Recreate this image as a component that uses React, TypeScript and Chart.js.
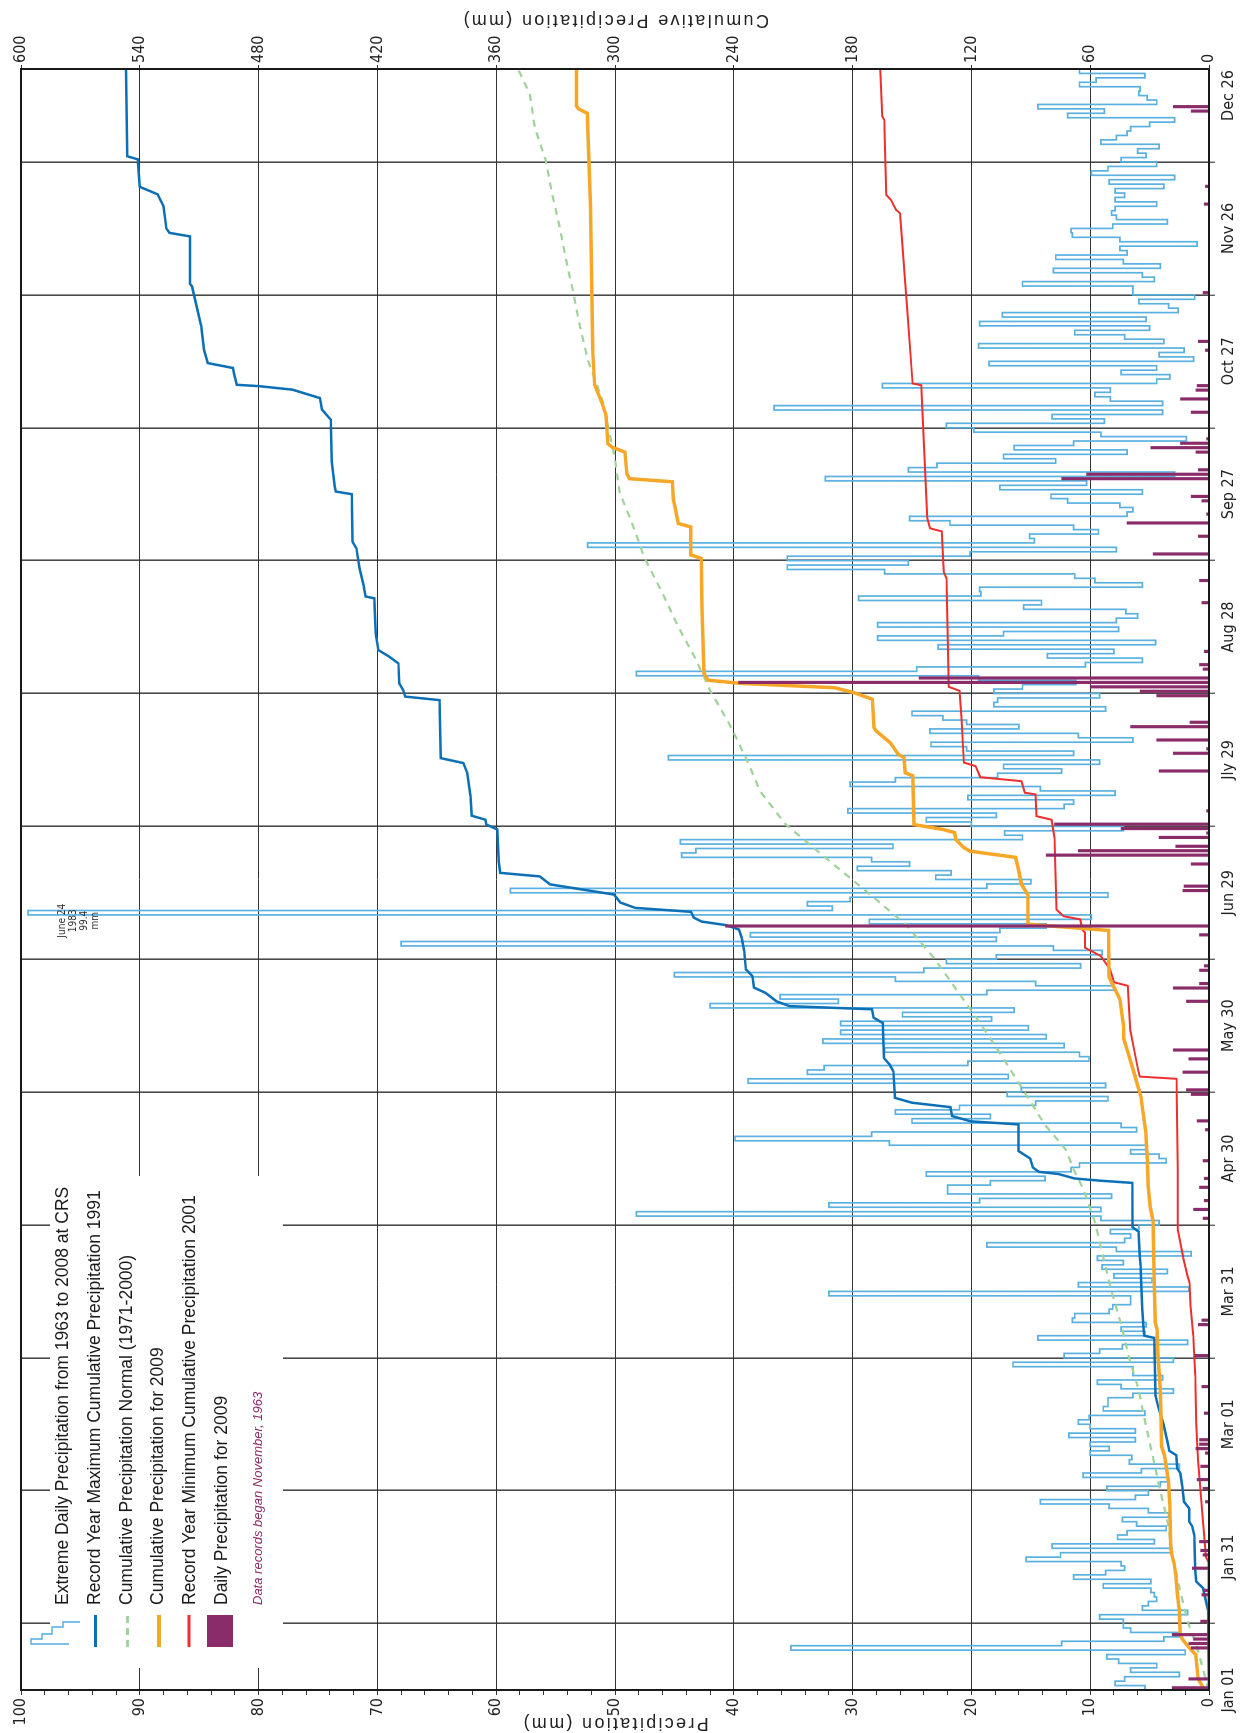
import React, { useEffect, useRef } from 'react';
import { Chart, registerables } from 'chart.js';

Chart.register(...registerables);

// ---------- axis ticks / labels ----------
const dateTickDays = [0, 30, 60, 90, 120, 150, 180, 210, 240, 270, 300, 330, 360];
const dateTickLabels = ['Jan 01', 'Jan 31', 'Mar 01', 'Mar 31', 'Apr 30', 'May 30', 'Jun 29', 'Jly 29', 'Aug 28', 'Sep 27', 'Oct 27', 'Nov 26', 'Dec 26'];
const dayMax = 366;
const precipMax = 100;
const precipMinorStep = 2;
const precipMajorStep = 10;
const cumulativeMax = 600;
const cumulativeStep = 60;

const leftTitle = 'Precipitation (mm)';
const rightTitle = 'Cumulative Precipitation (mm)';
const legendLabels = [
  'Extreme Daily Precipitation from 1963 to 2008 at CRS',
  'Record Year Maximum Cumulative Precipitation 1991',
  'Cumulative Precipitation Normal (1971-2000)',
  'Cumulative Precipitation for 2009',
  'Record Year Minimum Cumulative Precipitation 2001',
  'Daily Precipitation for 2009',
];
const recordsNote = 'Data records began November, 1963';
const extremeNote = ['June 24', '1983', '99.4', 'mm'];

// ---------- series ----------
// Extreme daily precipitation 1963-2008 (mm), one value per day, Jan 01 .. Dec 31
const extremeDaily = [
  5.4, 7.9, 7.1, 2.5, 6.6, 4.4, 7.6, 8.6, 2.0, 35.2,
  12.4, 3.8, 2.5, 6.6, 7.2, 7.2, 9.2, 1.8, 5.6, 5.1,
  4.4, 4.6, 4.9, 8.9, 4.9, 11.4, 8.7, 7.1, 7.4, 15.4,
  12.5, 3.1, 13.2, 4.6, 7.7, 6.9, 3.6, 6.1, 7.3, 3.4,
  5.1, 8.4, 14.2, 6.2, 5.1, 8.6, 4.1, 3.4, 10.6, 5.7,
  2.5, 6.7, 6.5, 10.0, 8.4, 10.0, 6.2, 11.8, 6.2, 10.0,
  11.0, 10.1, 5.4, 8.9, 8.5, 8.5, 6.4, 3.0, 7.4, 9.4,
  3.9, 6.4, 6.4, 16.5, 3.0, 12.2, 9.2, 7.3, 1.8, 14.4,
  5.4, 7.4, 5.3, 11.5, 11.3, 8.4, 8.1, 6.6, 6.6, 32.0,
  1.7, 11.0, 4.8, 8.0, 3.5, 9.0, 7.2, 9.4, 1.5, 7.8,
  18.7, 7.1, 6.6, 8.3, 5.9, 4.2, 9.1, 48.2, 9.1, 32.0,
  19.3, 8.2, 22.0, 22.0, 18.4, 13.8, 23.8, 11.6, 10.9, 3.6,
  4.2, 6.6, 5.3, 26.9, 39.9, 28.4, 6.1, 7.4, 25.0, 18.4,
  26.4, 21.0, 14.6, 8.5, 17.0, 15.8, 8.7, 38.8, 16.9, 33.8,
  32.4, 20.3, 10.1, 10.9, 27.3, 12.2, 32.5, 13.7, 31.0, 15.2,
  31.0, 18.3, 25.8, 16.4, 42.0, 31.2, 36.1, 18.7, 8.0, 14.6,
  26.4, 45.0, 24.0, 10.8, 22.1, 17.9, 9.0, 13.1, 68.0, 17.9,
  38.6, 17.6, 13.7, 28.6, 9.9, 99.4, 31.7, 33.8, 30.2, 8.5,
  58.8, 18.7, 15.0, 23.0, 21.7, 29.6, 25.2, 28.4, 44.4, 43.2,
  26.6, 44.5, 15.7, 17.2, 7.2, 20.0, 23.8, 17.9, 30.4, 12.2,
  11.4, 20.3, 7.9, 14.2, 30.2, 26.4, 17.8, 12.4, 17.3, 9.2,
  45.5, 11.4, 20.4, 23.4, 6.4, 11.0, 23.5, 16.0, 20.4, 22.4,
  25.0, 8.7, 18.1, 17.8, 9.2, 18.1, 15.7, 11.2, 19.4, 48.2,
  24.6, 10.4, 5.6, 13.6, 8.0, 22.8, 4.5, 27.9, 17.3, 7.6,
  27.9, 7.8, 6.0, 7.0, 15.6, 14.1, 29.5, 19.2, 19.3, 5.6,
  9.6, 11.3, 27.3, 35.5, 25.3, 35.5, 20.1, 7.8, 52.3, 14.7,
  15.1, 9.3, 11.4, 21.8, 25.2, 6.9, 6.4, 7.5, 11.9, 13.3,
  5.6, 17.6, 10.3, 32.3, 2.9, 25.3, 22.9, 12.9, 17.3, 6.9,
  16.4, 11.4, 1.9, 9.1, 19.8, 22.1, 8.8, 13.2, 3.9, 36.6,
  3.9, 8.3, 9.6, 8.3, 27.5, 4.4, 3.3, 7.4, 4.4, 18.5,
  1.3, 4.2, 2.1, 19.4, 3.8, 7.1, 11.3, 5.0, 19.3, 5.3,
  17.4, 2.6, 3.4, 5.9, 1.2, 6.4, 6.4, 15.7, 4.6, 5.6,
  13.1, 4.1, 7.2, 12.9, 6.9, 7.5, 1.0, 7.5, 11.5, 11.6,
  8.1, 3.5, 7.8, 8.2, 7.9, 4.4, 7.9, 7.1, 7.9, 3.8,
  8.4, 2.9, 9.9, 8.5, 4.4, 7.4, 5.3, 6.0, 4.2, 9.1,
  7.8, 6.9, 6.6, 5.0, 2.9, 11.9, 8.8, 14.4, 4.4, 5.2,
  5.9, 5.8, 10.9, 9.5, 5.4, 10.9,
];

// Daily precipitation 2009 (day of year, mm)
const daily2009Days = [0, 2, 9, 10, 11, 12, 15, 21, 22, 27, 30, 31, 33, 42, 45, 47, 50, 53, 54, 55, 56, 62, 68, 75, 82, 83, 106, 108, 110, 113, 115, 119, 126, 128, 134, 135, 139, 142, 144, 155, 158, 159, 162, 163, 170, 172, 180, 181, 186, 188, 189, 190, 192, 193, 194, 195, 198, 207, 211, 212, 214, 217, 218, 224, 225, 226, 227, 228, 230, 231, 234, 245, 250, 256, 260, 263, 265, 268, 269, 273, 274, 275, 279, 280, 281, 282, 288, 291, 293, 294, 302, 304, 315, 335, 339, 356, 357];
const daily2009Values = [3.1, 1.7, 1.5, 1.7, 1.3, 3.1, 0.7, 0.6, 0.4, 1.4, 0.5, 0.7, 0.8, 0.3, 0.5, 1.0, 0.7, 0.3, 1.1, 0.8, 0.8, 0.4, 0.6, 1.2, 0.9, 0.6, 0.5, 1.3, 0.4, 0.8, 0.4, 0.5, 0.3, 1.0, 1.5, 1.9, 2.2, 1.7, 3.0, 1.9, 3.0, 0.8, 0.8, 0.4, 0.8, 40.7, 2.2, 2.1, 1.5, 13.7, 11.0, 2.8, 4.2, 0.2, 7.4, 13.0, 0.2, 4.2, 3.0, 0.2, 4.4, 6.6, 1.6, 4.4, 5.8, 10.0, 39.6, 24.4, 0.5, 0.8, 0.4, 0.6, 0.8, 4.7, 0.9, 6.9, 0.2, 0.6, 1.5, 12.4, 10.3, 0.9, 1.1, 4.9, 2.4, 0.2, 1.5, 2.4, 1.1, 1.0, 0.3, 0.9, 0.5, 0.4, 0.3, 1.5, 3.0];

// Cumulative series: [day of year, cumulative mm]
const max1991: [number, number][] = [
  [0, 0], [18, 0.5], [21, 2], [23, 3], [24.5, 6.5], [27, 7], [35, 7.5], [37, 8.5], [38, 10], [41, 10],
  [42.5, 12.6], [46, 13.5], [49, 14.5], [50, 16], [53, 16.5], [54, 20], [56, 21], [58, 22], [60, 23],
  [64, 25.7], [66.5, 27], [79.5, 27.7], [80, 32.7], [81, 33], [86, 33.7], [96, 34.6], [98, 35],
  [103.5, 35.6], [104.5, 38.6], [114.5, 38.8], [115, 55], [115.5, 68], [116.5, 76], [117, 86],
  [118, 89], [120, 90.3], [121.7, 96.2], [127.7, 96.2], [128.4, 120.4], [129.6, 129.8], [131.6, 130.6],
  [132.6, 150], [133.7, 158.6], [139.7, 159.4], [141.2, 161.3], [142.7, 164.2], [150.6, 164.8],
  [151.8, 169.4], [153.7, 170.2], [154.4, 211.8], [155.5, 218.5], [157.4, 224], [158.6, 229.8],
  [161.2, 230.6], [162.7, 233.9], [166.8, 234.7], [169.8, 236], [171.7, 237.4], [172.7, 244],
  [173.5, 256.2], [174.4, 260.2], [175.7, 261.6], [176.6, 289.8], [177.8, 297.3], [179.6, 300.5],
  [181.9, 332.8], [183.7, 338], [184.5, 358], [187, 358.7], [194.3, 359.5], [195.4, 365],
  [196.5, 365.4], [197.4, 372.4], [201.8, 373], [207, 374.6], [209.3, 376.6], [210.4, 388],
  [223.5, 388.6], [224.3, 406], [225.8, 407], [227.3, 409], [231.8, 409.4], [233.3, 414],
  [234.8, 419.5], [238.5, 420.8], [246.5, 421.6], [246.9, 426], [249.5, 427], [253.3, 429],
  [257.8, 430.6], [259.3, 432.6], [270, 433], [270.6, 441], [271.7, 441.5], [277.3, 443],
  [286.8, 443.5], [289.1, 448], [291.7, 449], [293.6, 462.9], [294.4, 480], [294.7, 491],
  [297, 492.3], [298.5, 493], [299.6, 505.7], [302.6, 507.6], [307.9, 509], [316.9, 513.6],
  [317.5, 514.6], [328.2, 514.6], [329, 525], [330, 526.6], [335, 528], [337.7, 531], [339.4, 540],
  [345.6, 541], [346.3, 546.4], [366, 547],
];

const normal7100: [number, number][] = [
  [0, 0], [1, 0.8], [8, 5], [12.6, 8.4], [15.6, 10.9], [23.2, 15], [30.7, 18.5], [38.2, 21],
  [45.7, 25], [53.2, 28.6], [60, 32], [67.9, 35.6], [75.4, 40.6], [82.9, 44.6], [90.4, 49.5],
  [97.9, 53.5], [105.4, 57.4], [113, 63.4], [117.5, 68.3], [122, 72.3], [127.7, 83], [135.2, 93.5],
  [142.7, 104], [150.2, 115], [157.8, 127], [165.3, 139], [172.8, 153], [180.3, 173], [187.9, 193.6],
  [195.4, 213.7], [202.9, 226.7], [210.4, 233.8], [217.9, 242], [225.4, 251.6], [232.9, 259.4],
  [240, 268], [248, 276.4], [255.5, 285], [263, 291], [270.5, 297.7], [278, 300], [285.5, 303.6],
  [290.7, 306], [294.5, 309], [300, 313.5], [307.9, 317.7], [315.4, 321], [322.9, 324.7],
  [330.4, 328], [337.9, 331.8], [345.4, 335], [352.9, 340.6], [360.4, 343], [366, 349],
];

const cum2009: [number, number][] = [
  [0, 3.1], [1, 3.5], [2.5, 5.5], [8, 6.7], [9.5, 10], [11.5, 13.5], [12.5, 14.5], [18, 15], [22, 16],
  [26, 16.8], [28.5, 17.6], [30, 18.5], [32, 19.3], [42, 19.8], [47, 20.5], [50, 21.5], [53, 22.5],
  [55, 24], [62, 24.2], [68, 24.6], [75.5, 25.7], [81.5, 26.3], [83, 27.1], [92, 27.7], [106, 28.3],
  [109, 29.7], [113.5, 30.7], [120, 31.2], [126, 32], [134, 34.4], [139, 37.6], [144, 41], [147, 43],
  [150, 43.2], [156, 45], [158.5, 47.8], [161, 50.5], [171.5, 50.8], [172.9, 91.4], [179.6, 91.6],
  [181.9, 94.7], [186, 96.6], [188, 97.7], [189.4, 120.7], [190.2, 123.8], [192, 127.8],
  [193.6, 128.5], [194.3, 134.4], [195.4, 149], [206.4, 149.6], [207.1, 153.4], [210.5, 154],
  [211.3, 157], [213.9, 161], [216.5, 168], [217.3, 169.2], [223.7, 170], [225.2, 179.4],
  [226.3, 189], [227.3, 237], [228, 253], [229.5, 255], [244.2, 256], [255.5, 256.4], [256.3, 261.7],
  [262.6, 261.7], [263.4, 268], [269, 270.6], [272.8, 271], [273.5, 292.7], [274.6, 294],
  [279.5, 295], [280.6, 301.5], [281.4, 303.6], [287.8, 304.5], [290.5, 306.5], [294.7, 310.3],
  [302.6, 311.3], [335, 312.4], [356, 314], [357, 318.4], [357.6, 319.4], [366, 319.4],
];

const min2001: [number, number][] = [
  [0, 0], [29, 0.4], [30, 1.5], [38, 3], [45, 4.3], [52, 5.5], [60, 6.4], [71, 6.9], [80, 7.9],
  [86.8, 9.3], [92, 9.9], [93.5, 10.9], [97.3, 12.9], [98.8, 13.5], [104, 15.8], [117.5, 15.8],
  [138, 16.4], [138.5, 35], [140, 35.8], [149, 39.8], [159, 41], [159.8, 48], [162.7, 50],
  [165.7, 54.6], [167.6, 62.6], [171, 62.6], [171.7, 64], [174, 65], [174.7, 73.4], [176.2, 77],
  [192.4, 78], [196.5, 79.5], [197.3, 87.1], [202.2, 87.6], [202.6, 93], [205.2, 94.7],
  [206.1, 115.5], [208.6, 117.9], [209.4, 123.8], [219.5, 125], [225.6, 126], [226.5, 131.4],
  [251, 132.6], [252.5, 134], [261.6, 135], [262.3, 140.9], [264.6, 142.3], [294.6, 145.3],
  [295, 149.7], [312.4, 152.5], [333.4, 156], [334.2, 158], [336.4, 160.6], [337.6, 163],
  [354.5, 164], [355.3, 165], [366, 166],
];

// ---------- styles ----------
const C_EXTREME = '#5ab1e0';
const C_MAX = '#0d70b6';
const C_NORMAL = '#9fd39a';
const C_2009 = '#f6a728';
const C_MIN = '#ec2f2f';
const C_DAILY = '#8b2c6a';
const TICK_FONT = "'Liberation Sans Narrow', 'Arial Narrow', 'DejaVu Sans Condensed', sans-serif";
const TEXT_FONT = "'Liberation Sans', Arial, Helvetica, sans-serif";

const W = 1733; // landscape chart, rotated into the 1244x1733 page
const H = 1244;

const decorPlugin = {
  id: 'decor',
  afterDraw(chart: any) {
    const ctx: CanvasRenderingContext2D = chart.ctx;
    const a = chart.chartArea;
    ctx.save();
    // plot frame
    ctx.strokeStyle = '#1a1a1a';
    ctx.lineWidth = 2;
    ctx.strokeRect(a.left, a.top, a.right - a.left, a.bottom - a.top);

    // axis titles (both read bottom-to-top)
    const midY = (a.top + a.bottom) / 2;
    ctx.fillStyle = '#222';
    ctx.font = `18px ${TEXT_FONT}`;
    (ctx as any).letterSpacing = '2.3px';
    ctx.textAlign = 'center';
    ctx.textBaseline = 'middle';
    const rotText = (t: string, x: number, y: number) => {
      ctx.save();
      ctx.translate(x, y);
      ctx.rotate(-Math.PI / 2);
      ctx.fillText(t, 0, 0);
      ctx.restore();
    };
    rotText(leftTitle, 10, midY);
    rotText(rightTitle, W - 20, midY);
    (ctx as any).letterSpacing = '0px';

    // legend
    const lx = a.left;
    const ly = a.top;
    ctx.fillStyle = '#ffffff';
    ctx.fillRect(lx + 22, ly + 29, 492, 233);

    // step icon
    ctx.strokeStyle = C_EXTREME;
    ctx.lineWidth = 1.6;
    const stepPts = [[46, 48], [46, 10], [51, 10], [51, 21], [56, 21], [56, 31], [63, 31], [63, 42], [68, 42], [68, 59]];
    ctx.beginPath();
    stepPts.forEach(([px, py], i) => {
      if (i === 0) ctx.moveTo(lx + px, ly + py);
      else ctx.lineTo(lx + px, ly + py);
    });
    ctx.stroke();

    const lineIcon = (y: number, color: string, width: number, dash: number[]) => {
      ctx.save();
      ctx.strokeStyle = color;
      ctx.lineWidth = width;
      ctx.setLineDash(dash);
      ctx.beginPath();
      ctx.moveTo(lx + 43, ly + y);
      ctx.lineTo(lx + 75, ly + y);
      ctx.stroke();
      ctx.restore();
    };
    lineIcon(74.5, C_MAX, 3, []);
    lineIcon(106.5, C_NORMAL, 3, [7, 5]);
    lineIcon(138, C_2009, 4, []);
    lineIcon(168, C_MIN, 3, []);
    ctx.fillStyle = C_DAILY;
    ctx.fillRect(lx + 43, ly + 186, 32, 26);

    ctx.fillStyle = '#1a1a1a';
    ctx.font = `17.5px ${TEXT_FONT}`;
    ctx.textAlign = 'left';
    ctx.textBaseline = 'alphabetic';
    legendLabels.forEach((t, i) => {
      ctx.fillText(t, lx + 85, ly + 47.3 + i * 31.7);
    });
    ctx.fillStyle = C_DAILY;
    ctx.font = `italic 13px ${TEXT_FONT}`;
    ctx.fillText(recordsNote, lx + 85, ly + 241);

    // note on the extreme value
    ctx.fillStyle = '#333';
    ctx.font = `10px ${TICK_FONT}`;
    ctx.textAlign = 'center';
    const noteX = chart.scales.x.getPixelForValue(175.5) - 8;
    extremeNote.forEach((t, i) => {
      ctx.fillText(t, noteX, ly + 44 + i * 11);
    });
    ctx.restore();
  },
};

export default function App() {
  const ref = useRef<HTMLCanvasElement | null>(null);

  useEffect(() => {
    if (!ref.current) return;
    const extremeData = extremeDaily.map((v, i) => ({ x: i, y: v }));
    extremeData.push({ x: dayMax, y: extremeDaily[extremeDaily.length - 1] });
    const pairs = (arr: [number, number][]) => arr.map(([x, y]) => ({ x, y }));

    const chart = new Chart(ref.current, {
      type: 'line',
      data: {
        datasets: [
          {
            type: 'bar',
            label: legendLabels[5],
            data: daily2009Days.map((d, i) => ({ x: d + 0.5, y: daily2009Values[i] })),
            backgroundColor: C_DAILY,
            borderWidth: 0,
            barThickness: 2.5,
            xAxisID: 'x',
            yAxisID: 'y',
            order: 0,
          } as any,
          {
            label: legendLabels[3],
            data: pairs(cum2009),
            borderColor: C_2009,
            borderWidth: 3.5,
            pointRadius: 0,
            tension: 0,
            yAxisID: 'y2',
            order: 1,
          },
          {
            label: legendLabels[4],
            data: pairs(min2001),
            borderColor: C_MIN,
            borderWidth: 2,
            pointRadius: 0,
            tension: 0,
            yAxisID: 'y2',
            order: 2,
          },
          {
            label: legendLabels[1],
            data: pairs(max1991),
            borderColor: C_MAX,
            borderWidth: 2.5,
            pointRadius: 0,
            tension: 0,
            yAxisID: 'y2',
            order: 3,
          },
          {
            label: legendLabels[2],
            data: pairs(normal7100),
            borderColor: C_NORMAL,
            borderWidth: 2.2,
            borderDash: [7, 6],
            pointRadius: 0,
            tension: 0,
            yAxisID: 'y2',
            order: 4,
          },
          {
            label: legendLabels[0],
            data: extremeData,
            borderColor: C_EXTREME,
            borderWidth: 1.7,
            stepped: true,
            pointRadius: 0,
            yAxisID: 'y',
            order: 5,
          },
        ],
      },
      options: {
        responsive: false,
        maintainAspectRatio: false,
        devicePixelRatio: 1,
        animation: false,
        events: [],
        layout: { padding: { top: 21, left: 0, right: 0, bottom: 0 } },
        plugins: {
          legend: { display: false },
          tooltip: { enabled: false },
        },
        scales: {
          x: {
            type: 'linear',
            position: 'bottom',
            min: 0,
            max: dayMax,
            offset: false,
            afterBuildTicks: (s: any) => {
              s.ticks = dateTickDays.map((v) => ({ value: v }));
            },
            afterFit: (s: any) => {
              s.height = 35;
            },
            ticks: {
              autoSkip: false,
              maxRotation: 0,
              padding: 4,
              color: '#222',
              font: { family: TICK_FONT, size: 16 },
              callback: (v: any) => {
                const i = dateTickDays.indexOf(Number(v));
                return i >= 0 ? dateTickLabels[i] : '';
              },
            },
            grid: { color: '#4a4a4a', lineWidth: 1.6, tickLength: 6, tickColor: '#222', tickWidth: 1 },
            border: { display: false },
          },
          y: {
            type: 'linear',
            position: 'left',
            min: 0,
            max: precipMax,
            afterBuildTicks: (s: any) => {
              const t = [];
              for (let v = 0; v <= precipMax; v += precipMinorStep) t.push({ value: v });
              s.ticks = t;
            },
            afterFit: (s: any) => {
              s.width = 43;
            },
            ticks: {
              autoSkip: false,
              padding: 3,
              color: '#222',
              font: { family: TICK_FONT, size: 16 },
              callback: (v: any) => (Number(v) % precipMajorStep === 0 ? String(v) : ''),
            },
            grid: {
              color: (c: any) => (c.tick && c.tick.value % precipMajorStep === 0 ? '#333' : 'rgba(0,0,0,0)'),
              lineWidth: 1,
              tickLength: 5,
              tickColor: '#333',
              tickWidth: 1,
            },
            border: { display: false },
          },
          y2: {
            type: 'linear',
            position: 'right',
            min: 0,
            max: cumulativeMax,
            afterBuildTicks: (s: any) => {
              const t = [];
              for (let v = 0; v <= cumulativeMax; v += cumulativeStep) t.push({ value: v });
              s.ticks = t;
            },
            afterFit: (s: any) => {
              s.width = 69;
            },
            ticks: {
              autoSkip: false,
              padding: 2,
              color: '#222',
              font: { family: TICK_FONT, size: 16 },
            },
            grid: { drawOnChartArea: false, tickLength: 4, color: '#333', tickColor: '#333' },
            border: { display: false },
          },
        },
      } as any,
      plugins: [decorPlugin],
    });
    return () => chart.destroy();
  }, []);

  return (
    <div style={{ position: 'absolute', left: 0, top: 0, width: 1244, height: 1733, overflow: 'hidden', background: '#fff' }}>
      <div
        style={{
          position: 'absolute',
          left: 0,
          top: 0,
          width: W,
          height: H,
          transformOrigin: '0 0',
          transform: `translate(0px, ${W}px) rotate(-90deg)`,
        }}
      >
        <canvas ref={ref} width={W} height={H} style={{ display: 'block', width: W, height: H }} />
      </div>
    </div>
  );
}
